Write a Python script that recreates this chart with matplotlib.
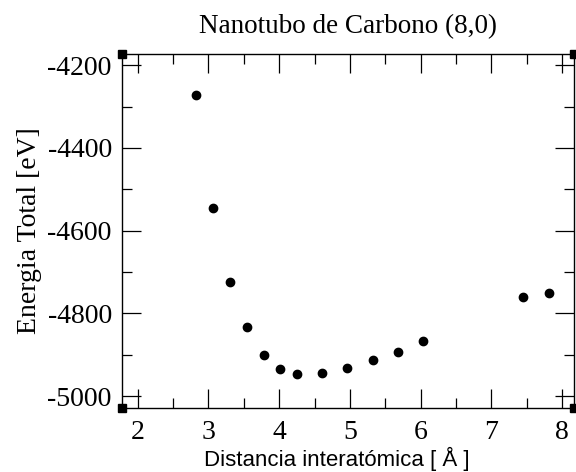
import matplotlib
matplotlib.use('Agg')
import matplotlib.pyplot as plt
from matplotlib.ticker import MultipleLocator

# datos
distancia = [2.83, 3.07, 3.30, 3.54, 3.78, 4.01, 4.25, 4.61, 4.96, 5.32, 5.68, 6.03, 7.45, 7.81]
energia = [-4273, -4545, -4724, -4834, -4901, -4935, -4947, -4944, -4932, -4913, -4893, -4867, -4761, -4750]

titulo = 'Nanotubo de Carbono (8,0)'
xlabel = 'Distancia interatómica [ Å ]'
ylabel = 'Energia Total [eV]'

serif = ['Liberation Serif', 'DejaVu Serif']
sans = ['Liberation Sans', 'DejaVu Sans']

plt.rcParams['axes.unicode_minus'] = False

fig = plt.figure(figsize=(5.76, 4.72), dpi=100)
ax = fig.add_axes([0.211, 0.1356, 0.7855, 0.75])

ax.plot(distancia, energia, 'o', color='black', ms=6, ls='none')

ax.set_xlim(1.77, 8.17)
ax.set_ylim(-5029, -4173)

ax.xaxis.set_major_locator(MultipleLocator(1))
ax.xaxis.set_minor_locator(MultipleLocator(0.5))
ax.yaxis.set_major_locator(MultipleLocator(200))
ax.yaxis.set_minor_locator(MultipleLocator(100))

ax.tick_params(which='both', direction='in', top=True, right=True, width=0.9, color='black')
ax.tick_params(which='major', length=14)
ax.tick_params(which='minor', length=7)
ax.tick_params(axis='y', pad=7)
ax.tick_params(axis='x', pad=8.5)

for lab in ax.get_xticklabels() + ax.get_yticklabels():
    lab.set_family(serif)
    lab.set_fontsize(20)

for s in ax.spines.values():
    s.set_linewidth(1.0)

ax.set_title(titulo, family=serif, fontsize=19.5, pad=15)
ax.set_xlabel(xlabel, family=sans, fontsize=16, labelpad=1.5)
ax.xaxis.label.set_x(0.475)
ax.set_ylabel(ylabel, family=serif, fontsize=20, labelpad=4)

# cuadritos negros en las esquinas del marco
ax.plot([0, 0, 1, 1], [0, 1, 0, 1], 's', color='black', ms=6,
        transform=ax.transAxes, clip_on=False)

fig.savefig('out.png', dpi=100)
